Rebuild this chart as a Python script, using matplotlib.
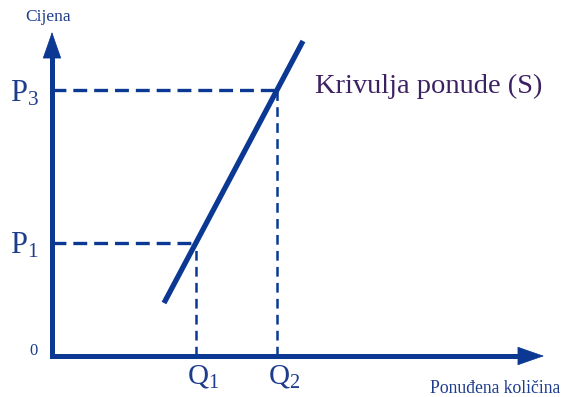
import matplotlib
matplotlib.use("Agg")
import matplotlib.pyplot as plt

plt.rcParams['font.family'] = ['Liberation Serif', 'DejaVu Serif']
plt.rcParams['mathtext.fontset'] = 'custom'
plt.rcParams['mathtext.rm'] = 'Liberation Serif'
plt.rcParams['lines.scale_dashes'] = False

# supply curve end points (quantity, price)
q_supply = [112, 251]
p_supply = [53, 315]

# marked quantities / prices on the curve
q_marks = [144, 225]
q_labels = ['Q_1', 'Q_2']
p_marks = [113, 266]
p_labels = ['P_1', 'P_3']

x_end = 492
y_end = 324

line_col = '#0b3892'
text_col = '#1d3c8c'
curve_label_col = '#3c2162'

fig = plt.figure(figsize=(5.64, 3.97), dpi=100)
ax = fig.add_axes([0, 0, 1, 1])
ax.set_xlim(-52, 512)
ax.set_ylim(-41, 356)
ax.axis('off')

# axes with arrow heads
ax.plot([0, 0], [0, y_end - 12], color=line_col, lw=3.6, solid_capstyle='projecting')
ax.plot([0, x_end - 12], [0, 0], color=line_col, lw=3.6, solid_capstyle='projecting')
arrow = dict(arrowstyle='-|>,head_length=1.2,head_width=0.42', color=line_col,
             lw=0.5, mutation_scale=15, shrinkA=0, shrinkB=0)
ax.annotate('', xy=(0, y_end), xytext=(0, y_end - 14), arrowprops=arrow)
ax.annotate('', xy=(x_end, 0), xytext=(x_end - 14, 0), arrowprops=arrow)

# guide lines from the curve to the axes
for q, p in zip(q_marks, p_marks):
    ax.plot([0, q], [p, p], color=line_col, lw=2.4, dashes=(10, 5))
    ax.plot([q, q], [0, p], color=line_col, lw=1.8, dashes=(7, 4.5))

# supply curve
ax.plot(q_supply, p_supply, color=line_col, lw=3.8, solid_capstyle='butt')

for q, lab in zip(q_marks, q_labels):
    ax.text(q - 9, -27, r'$\mathregular{%s}$' % lab, color=text_col, fontsize=21,
            ha='left', va='baseline')
for p, lab in zip(p_marks, p_labels):
    ax.text(-42, p - 11, r'$\mathregular{%s}$' % lab, color=text_col, fontsize=22,
            ha='left', va='baseline')

ax.text(-19, 1, '0', color=text_col, fontsize=12, ha='center', va='baseline')
ax.text(-4, 339, 'Cijena', color=text_col, fontsize=12.5, ha='center', va='center')
ax.text(508, -37, 'Ponuđena količina', color=text_col, fontsize=12.7,
        ha='right', va='baseline')
ax.text(263, 263, 'Krivulja ponude (S)', color=curve_label_col, fontsize=20.5,
        ha='left', va='baseline')

fig.savefig('out.png', dpi=100)
